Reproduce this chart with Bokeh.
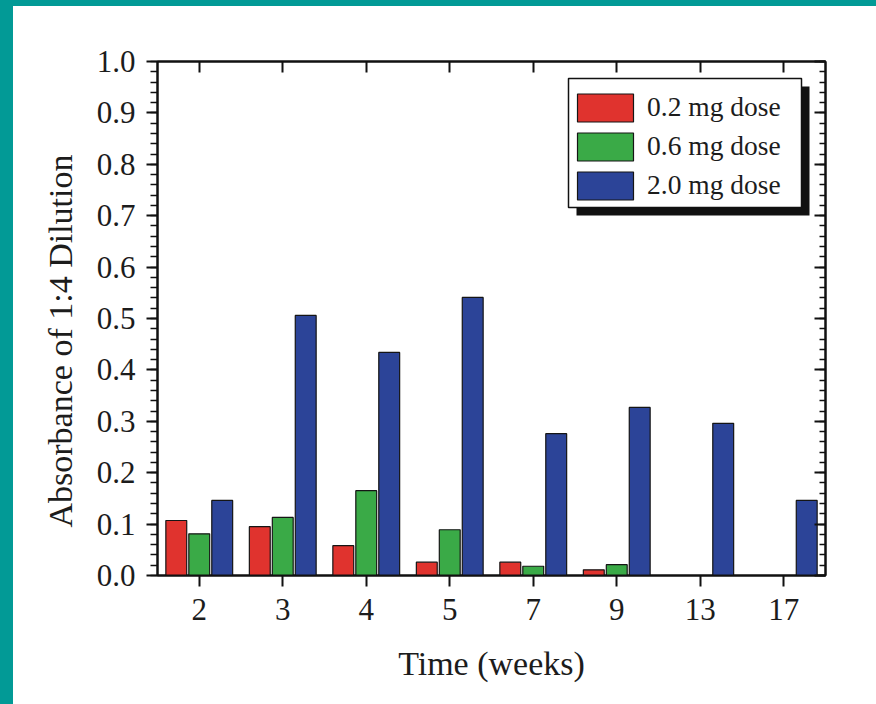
from bokeh.plotting import figure
from bokeh.models import (FactorRange, Range1d, SingleIntervalTicker, LinearAxis,
                          CategoricalAxis, CustomJSTickFormatter, NumeralTickFormatter,
                          Legend, LegendItem, Title, BoxAnnotation, Spacer,
                          ColumnDataSource)
from bokeh.transform import dodge
from bokeh.layouts import row, column
from bokeh.embed import file_html
from bokeh.resources import INLINE

# Absorbance of 1:4 dilution by week and dose
weeks = ["2", "3", "4", "5", "7", "9", "13", "17"]
dose_02 = [0.107, 0.095, 0.058, 0.026, 0.026, 0.011, 0.0, 0.0]
dose_06 = [0.081, 0.113, 0.165, 0.089, 0.018, 0.021, 0.0, 0.0]
dose_20 = [0.146, 0.506, 0.434, 0.541, 0.276, 0.327, 0.296, 0.146]
series_labels = ["0.2 mg dose", "0.6 mg dose", "2.0 mg dose"]
y_ticks_interval = 0.1

SERIF = "Liberation Serif"
TEXT = "#1c1c1c"
TEAL = "#029a96"
COLORS = ["#e0332e", "#3aaa47", "#2c4498"]

# figure geometry (px)
W, H = 863, 698
BL, BR, BT, BB = 144, 51, 55, 129
FW, FH = W - BL - BR, H - BT - BB

src = ColumnDataSource(dict(weeks=weeks, d02=dose_02, d06=dose_06, d20=dose_20))

p = figure(width=W, height=H, x_range=FactorRange(factors=weeks), y_range=Range1d(0, 1.0),
           output_backend="svg", toolbar_location=None,
           min_border_left=BL, min_border_right=BR, min_border_top=BT, min_border_bottom=BB,
           background_fill_color="white", border_fill_color="white")
p.xgrid.visible = False
p.ygrid.visible = False
p.outline_line_color = "#111111"
p.outline_line_width = 2

offsets = [-0.275, 0.0, 0.275]
cols = ["d02", "d06", "d20"]
renderers = []
for off, col, color in zip(offsets, cols, COLORS):
    r = p.vbar(x=dodge("weeks", off, range=p.x_range), top=col, width=0.25, source=src,
               fill_color=color, line_color="#151515", line_width=1.2)
    renderers.append(r)

# bottom axis
xa = p.xaxis[0]
xa.axis_line_width = 2
xa.axis_line_color = "#111111"
xa.major_tick_in = 0
xa.major_tick_out = 11
xa.major_tick_line_width = 2
xa.major_tick_line_color = "#111111"
xa.major_label_text_font = SERIF
xa.major_label_text_font_size = "31px"
xa.major_label_text_color = TEXT
xa.major_label_standoff = 12
xa.axis_label = "Time (weeks)"
xa.axis_label_text_font = SERIF
xa.axis_label_text_font_size = "34px"
xa.axis_label_text_font_style = "normal"
xa.axis_label_text_color = TEXT
xa.axis_label_standoff = 22

# left axis
ya = p.yaxis[0]
ya.ticker = SingleIntervalTicker(interval=y_ticks_interval, num_minor_ticks=5)
ya.formatter = NumeralTickFormatter(format="0.0")
ya.axis_line_width = 2
ya.axis_line_color = "#111111"
ya.major_tick_in = 0
ya.major_tick_out = 11
ya.major_tick_line_width = 2
ya.major_tick_line_color = "#111111"
ya.minor_tick_in = 0
ya.minor_tick_out = 7
ya.minor_tick_line_width = 1.5
ya.minor_tick_line_color = "#111111"
ya.major_label_text_font = SERIF
ya.major_label_text_font_size = "31px"
ya.major_label_text_color = TEXT
ya.major_label_standoff = 11

blank = CustomJSTickFormatter(code="return ''")

# right axis: inward ticks, no labels
ra = LinearAxis(ticker=SingleIntervalTicker(interval=y_ticks_interval, num_minor_ticks=5),
                formatter=blank, major_tick_in=11, major_tick_out=0,
                minor_tick_in=6, minor_tick_out=0,
                major_tick_line_width=2, minor_tick_line_width=1.5,
                major_tick_line_color="#111111", minor_tick_line_color="#111111",
                axis_line_width=2, axis_line_color="#111111", major_label_standoff=0)
p.add_layout(ra, "right")

# top axis: inward ticks, no labels
ta = CategoricalAxis(formatter=blank, major_tick_in=11, major_tick_out=0,
                     major_tick_line_width=2, major_tick_line_color="#111111",
                     axis_line_width=2, axis_line_color="#111111", major_label_standoff=0)
p.add_layout(ta, "above")

# y axis title
ytitle = Title(text="Absorbance of 1:4 Dilution", align="left", vertical_align="bottom",
               offset=48, standoff=30, text_font=SERIF, text_font_size="34px",
               text_font_style="normal", text_color=TEXT)
p.add_layout(ytitle, "left")

# legend box with drop shadow (page-pixel geometry relative to the frame)
FRAME_X0, FRAME_Y0 = 157, 61          # frame top-left on the page
n_cats = len(weeks)


def px_to_x(px):
    return (px - FRAME_X0) / FW * n_cats


def px_to_y(py):
    return 1.0 - (py - FRAME_Y0) / FH


box_l, box_t, box_r, box_b = 568, 78, 801, 207
sh = 8
shadow = BoxAnnotation(left=px_to_x(box_l + sh), right=px_to_x(box_r + sh),
                       top=px_to_y(box_t + sh), bottom=px_to_y(box_b + sh),
                       fill_color="#111111", fill_alpha=1.0, line_alpha=0)
frame_box = BoxAnnotation(left=px_to_x(box_l), right=px_to_x(box_r),
                          top=px_to_y(box_t), bottom=px_to_y(box_b),
                          fill_color="white", fill_alpha=1.0,
                          line_color="#111111", line_alpha=1.0, line_width=1.5)
p.add_layout(shadow)
p.add_layout(frame_box)

glyph_w, glyph_h, spacing = 70, 35, 4
leg_h = 3 * glyph_h + 2 * spacing
leg_left, leg_top = 570, 89.5
legend = Legend(items=[LegendItem(label=lab, renderers=[r]) for lab, r in zip(series_labels, renderers)],
                location=(leg_left - FRAME_X0, FH - (leg_top - FRAME_Y0) - leg_h),
                glyph_width=glyph_w, glyph_height=glyph_h, spacing=spacing,
                padding=0, margin=0, label_standoff=7,
                label_text_font=SERIF, label_text_font_size="27.5px", label_text_color=TEXT,
                border_line_alpha=0, background_fill_alpha=0)
p.add_layout(legend)

left_strip = Spacer(width=13, height=704, styles={"background-color": TEAL})
top_strip = Spacer(width=W, height=6, styles={"background-color": TEAL})
page = row(left_strip, column(top_strip, p))

open("out.html", "w").write(file_html(page, INLINE))
